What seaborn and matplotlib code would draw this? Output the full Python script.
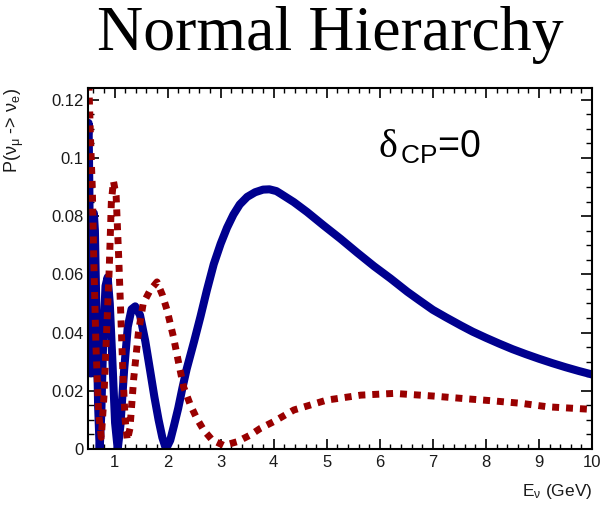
import matplotlib
matplotlib.use("Agg")
import matplotlib.pyplot as plt
import numpy as np
import pandas as pd
import seaborn as sns
from matplotlib.ticker import FixedLocator, MultipleLocator

# ---- data ----
nu_E = [0.50, 0.51, 0.525, 0.54, 0.555, 0.57, 0.59, 0.61, 0.63, 0.66, 0.69, 0.72,
        0.75, 0.79, 0.83, 0.87, 0.91, 0.96, 1.01, 1.06, 1.11, 1.18, 1.25, 1.32,
        1.39, 1.48, 1.58, 1.67, 1.75, 1.83, 1.90, 1.97, 2.05, 2.12, 2.20, 2.28,
        2.36, 2.50, 2.62, 2.74, 2.87, 3.00, 3.12, 3.24, 3.36, 3.50, 3.65, 3.80,
        3.92, 4.05, 4.13, 4.38, 4.63, 4.94, 5.26, 5.57, 5.89, 6.20, 6.52, 6.75,
        7.00, 7.25, 7.53, 7.75, 8.00, 8.25, 8.50, 8.75, 9.00, 9.25, 9.50, 9.75, 10.00]
nu_P = [0.108, 0.112, 0.090, 0.050, 0.026, 0.045, 0.070, 0.081, 0.075, 0.045, 0.015, 0.000,
        0.012, 0.040, 0.056, 0.059, 0.050, 0.030, 0.009, 0.000, 0.008, 0.027, 0.042, 0.048,
        0.049, 0.046, 0.037, 0.027, 0.018, 0.010, 0.004, 0.000, 0.003, 0.008, 0.014, 0.021,
        0.0275, 0.037, 0.0455, 0.0545, 0.0635, 0.0705, 0.0760, 0.0805, 0.0840, 0.0866, 0.0882, 0.0891,
        0.0892, 0.0886, 0.0877, 0.0848, 0.0814, 0.0768, 0.0722, 0.0675, 0.0628, 0.0586, 0.0540, 0.0510,
        0.0478, 0.0452, 0.0424, 0.0403, 0.0382, 0.0362, 0.0343, 0.0326, 0.0310, 0.0295, 0.0281, 0.0268, 0.0256]

anu_E = [0.50, 0.52, 0.55, 0.58, 0.61, 0.65, 0.70, 0.75, 0.80, 0.85, 0.90, 0.94,
         0.98, 1.03, 1.08, 1.12, 1.16, 1.20, 1.24, 1.29, 1.36, 1.45, 1.54, 1.67,
         1.80, 1.90, 1.99, 2.11, 2.21, 2.30, 2.43, 2.55, 2.68, 2.84, 3.06, 3.31,
         3.56, 3.75, 4.00, 4.38, 5.00, 5.64, 6.27, 7.00, 7.53, 8.09, 8.66, 9.16, 10.00]
anu_P = [0.135, 0.123, 0.105, 0.090, 0.064, 0.035, 0.012, 0.004, 0.018, 0.040, 0.062, 0.085,
         0.092, 0.087, 0.065, 0.045, 0.025, 0.010, 0.003, 0.007, 0.024, 0.040, 0.050, 0.0545,
         0.0574, 0.053, 0.0477, 0.0385, 0.0294, 0.0214, 0.0151, 0.0105, 0.0065, 0.0031, 0.0012, 0.0025,
         0.0048, 0.0071, 0.0094, 0.0134, 0.0168, 0.0185, 0.0191, 0.0182, 0.0174, 0.0166, 0.0157, 0.0145, 0.0136]

x_ticks = [1, 2, 3, 4, 5, 6, 7, 8, 9, 10]
x_tick_labels = ["1", "2", "3", "4", "5", "6", "7", "8", "9", "10"]
y_ticks = [0, 0.02, 0.04, 0.06, 0.08, 0.10, 0.12]
y_tick_labels = ["0", "0.02", "0.04", "0.06", "0.08", "0.1", "0.12"]

BLUE = "#00008f"
RED = "#990000"
TXT = "#1a1a1a"

sns.set_theme(style="white")
plt.rcParams["font.family"] = ["Liberation Sans", "DejaVu Sans"]
plt.rcParams["mathtext.fontset"] = "custom"
plt.rcParams["mathtext.rm"] = "Liberation Sans"
plt.rcParams["mathtext.sf"] = "Liberation Sans"
plt.rcParams["mathtext.it"] = "Liberation Sans:italic"

fig = plt.figure(figsize=(6, 5.05), dpi=100)
ax = fig.add_axes([0.1467, 0.1109, 0.8400, 0.7148])

df_nu = pd.DataFrame({"E": nu_E, "P": nu_P})
df_anu = pd.DataFrame({"E": anu_E, "P": anu_P})

sns.lineplot(data=df_nu, x="E", y="P", color=BLUE, lw=5.8, ax=ax,
             sort=False, estimator=None, solid_joinstyle="round", solid_capstyle="butt")
sns.lineplot(data=df_anu, x="E", y="P", color=RED, lw=5.0, ax=ax,
             sort=False, estimator=None, linestyle=(0, (1, 1)), dash_capstyle="butt")

ax.set_xlim(0.5, 10)
ax.set_ylim(0, 0.124)

ax.xaxis.set_major_locator(FixedLocator(x_ticks))
ax.set_xticklabels(x_tick_labels)
ax.xaxis.set_minor_locator(MultipleLocator(0.2))
ax.yaxis.set_major_locator(FixedLocator(y_ticks))
ax.set_yticklabels(y_tick_labels)
ax.yaxis.set_minor_locator(MultipleLocator(0.005))

ax.tick_params(which="both", direction="in", top=True, right=True, bottom=True, left=True,
               color="black", labelcolor=TXT, labelsize=12)
ax.tick_params(axis="x", which="major", length=7, width=1.2, pad=4)
ax.tick_params(axis="x", which="minor", length=3.5, width=1.0)
ax.tick_params(axis="y", which="major", length=8, width=1.2, pad=3)
ax.tick_params(axis="y", which="minor", length=4.3, width=1.0)

for sp in ax.spines.values():
    sp.set_visible(True)
    sp.set_color("black")
    sp.set_linewidth(1.5)

ax.set_xlabel(r"E$_{\mathregular{ν}}$ (GeV)", fontsize=12.5, color=TXT, ha="right", va="center")
ax.xaxis.set_label_coords(1.0, -0.119)
ax.set_ylabel(r"P($\mathregular{ν_{μ}}$ -> $\mathregular{ν_{e}}$)", fontsize=13, color=TXT,
              ha="right", va="center")
ax.yaxis.set_label_coords(-0.146, 1.0)

# delta_CP annotation: serif delta followed by sans subscript and "=0"
ax.text(5.98, 0.1002, "δ", family="Liberation Serif", fontsize=29, color="black",
        ha="left", va="baseline")
ax.annotate(r"$_{\mathsf{CP}}$=0", xy=(5.98, 0.1002), xycoords="data",
            xytext=(15.5, 0), textcoords="offset points", fontsize=27, color="black",
            ha="left", va="baseline")

fig.text(0.55, 0.901, "Normal Hierarchy", family="Liberation Serif", fontsize=46,
         ha="center", va="baseline", color="black")

fig.savefig("out.png", dpi=100)
